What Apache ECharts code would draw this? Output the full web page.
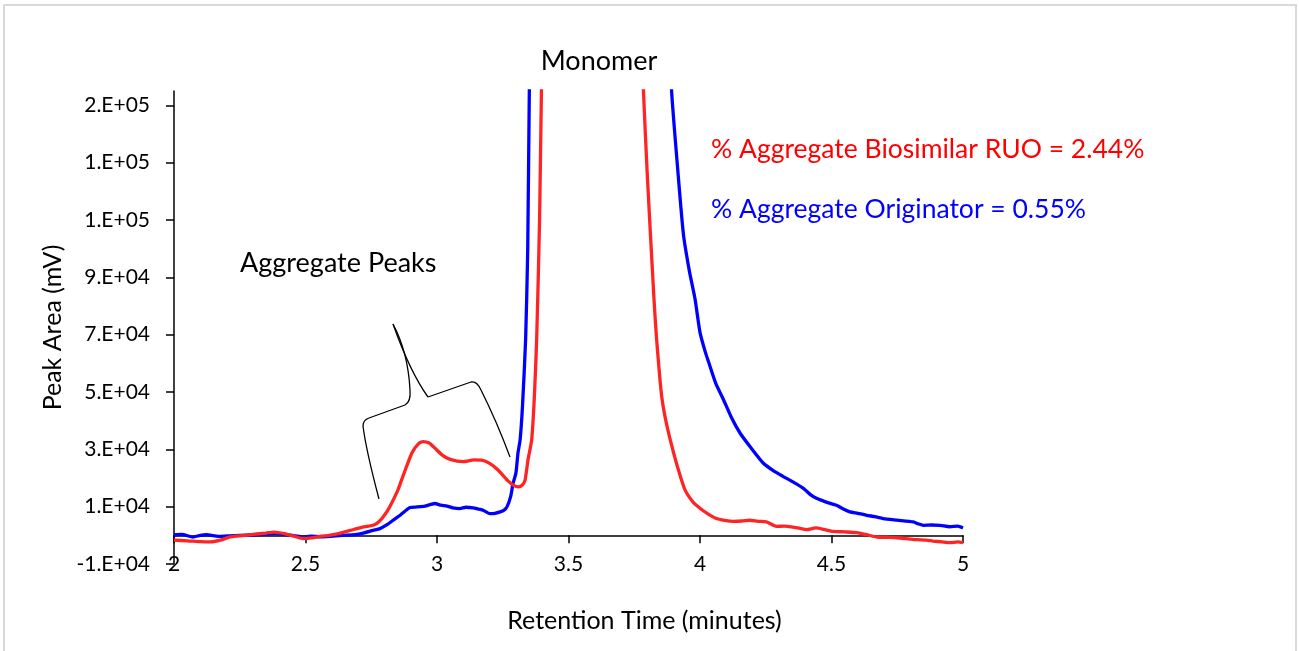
<!DOCTYPE html>
<html>
<head>
<meta charset="utf-8">
<script src="https://cdn.jsdelivr.net/npm/echarts@6/dist/echarts.min.js"></script>
<style>
  html, body { margin: 0; padding: 0; background: #fff; }
  #chart { width: 1299px; height: 651px; }
</style>
</head>
<body>
<div id="chart"></div>
<script>
// retention time (minutes) / peak area readings, originator (blue)
const blueTime = [2.00, 2.03, 2.072, 2.10, 2.125, 2.15, 2.175, 2.21, 2.25, 2.30, 2.35, 2.384, 2.42, 2.46, 2.49, 2.52, 2.56, 2.593, 2.64, 2.688,
  2.72, 2.757, 2.783, 2.81, 2.833, 2.86, 2.897, 2.925, 2.954, 2.992, 3.015, 3.038, 3.06, 3.087, 3.11, 3.137, 3.16, 3.175, 3.20, 3.22,
  3.24, 3.255, 3.266, 3.28, 3.289, 3.30, 3.308, 3.316, 3.325, 3.337, 3.345, 3.351, 3.36, 3.40, 3.48, 3.60, 3.72, 3.82, 3.87, 3.892,
  3.915, 3.937, 3.96, 3.981, 4.00, 4.02, 4.038, 4.06, 4.089, 4.12, 4.152, 4.19, 4.241, 4.28, 4.317, 4.35, 4.393, 4.42, 4.443, 4.48,
  4.519, 4.545, 4.57, 4.60, 4.634, 4.665, 4.697, 4.75, 4.811, 4.83, 4.849, 4.88, 4.913, 4.95, 4.98, 5.00];
const blueValue = [200, 300, -600, 0, 200, -100, -350, -200, 0, 200, 400, 580, 300, -200, -600, -300, -500, -350, 0, 230,
  800, 1750, 2340, 3700, 5260, 7000, 9700, 9900, 10200, 11100, 10500, 10200, 9600, 9350, 9800, 9600, 9100, 8770, 7600, 7700,
  8200, 8800, 9930, 13500, 18100, 21700, 28800, 33300, 45000, 68400, 100000, 154500, 200000, 330000, 430000, 460000, 420000, 300000, 200000, 155000,
  128000, 105000, 92000, 82500, 70800, 64000, 59000, 53000, 47400, 41000, 35700, 31000, 25150, 22500, 20500, 18800, 16400, 14200, 12900, 11600,
  10500, 9200, 8200, 7700, 7000, 6500, 5850, 5300, 4680, 4000, 3500, 3600, 3500, 3000, 3200, 2570];

// biosimilar RUO (red)
const redTime = [2.00, 2.05, 2.10, 2.14, 2.18, 2.21, 2.26, 2.30, 2.35, 2.38, 2.42, 2.46, 2.49, 2.53, 2.56, 2.59, 2.63, 2.67, 2.71, 2.76,
  2.78, 2.80, 2.82, 2.85, 2.87, 2.905, 2.93, 2.947, 2.97, 2.99, 3.02, 3.05, 3.10, 3.14, 3.17, 3.20, 3.23, 3.25, 3.27, 3.29,
  3.31, 3.325, 3.335, 3.346, 3.36, 3.37, 3.379, 3.39, 3.397, 3.41, 3.45, 3.52, 3.60, 3.68, 3.75, 3.785, 3.80, 3.825, 3.835, 3.855,
  3.885, 3.94, 3.97, 4.00, 4.03, 4.063, 4.10, 4.126, 4.16, 4.19, 4.22, 4.253, 4.29, 4.32, 4.353, 4.38, 4.405, 4.44, 4.47, 4.506,
  4.55, 4.596, 4.63, 4.672, 4.72, 4.76, 4.79, 4.824, 4.86, 4.886, 4.92, 4.95, 4.98, 5.00];
const redValue = [-1700, -1900, -2200, -2300, -1600, -600, -100, 300, 800, 1150, 600, -400, -1100, -800, -300, 0, 700, 1700, 2700, 3600,
  4800, 7000, 9900, 15500, 20500, 28800, 32000, 32700, 32200, 30600, 28000, 26500, 25700, 26300, 26200, 25100, 23000, 21000, 19000, 17500,
  16900, 17600, 19300, 26300, 33300, 48000, 68400, 110000, 154500, 210000, 320000, 390000, 400000, 350000, 240000, 155000, 125000, 82500, 68400, 48000,
  34000, 16500, 12000, 9450, 7500, 5850, 5100, 4900, 5000, 5260, 4900, 4680, 3150, 3200, 2900, 2400, 2000, 2570, 2100, 1400,
  1200, 930, 300, -580, -700, -930, -1200, -1520, -1700, -2000, -2300, -2570, -2300, -2570];

const yTickValues = [-10000, 10000, 30000, 50000, 70000, 90000, 110000, 130000, 150000];
const yTickLabels = ['-1.E+04', '1.E+04', '3.E+04', '5.E+04', '7.E+04', '9.E+04', '1.E+05', '1.E+05', '2.E+05'];

const zip = (xs, ys) => xs.map((x, i) => [x, ys[i]]);

// curly brace over the aggregate peaks (hand drawn annotation)
const braceStyle = { fill: 'none', stroke: '#000', lineWidth: 1.3 };
const curve = (x1, y1, cx, cy, x2, y2) => ({ type: 'bezierCurve', z: 10, shape: { x1: x1, y1: y1, cpx1: cx, cpy1: cy, x2: x2, y2: y2 }, style: braceStyle });
const seg = (x1, y1, x2, y2) => ({ type: 'line', z: 10, shape: { x1: x1, y1: y1, x2: x2, y2: y2 }, style: braceStyle });

var chart = echarts.init(document.getElementById('chart'));
chart.setOption({
  animation: false,
  textStyle: { fontFamily: 'Lato' },
  grid: { left: 174, top: 91, width: 789, height: 473, outerBoundsMode: 'none', containLabel: false },
  xAxis: {
    type: 'value', min: 2, max: 5, interval: 0.5,
    name: 'Retention Time (minutes)', nameLocation: 'middle', nameGap: 44,
    nameTextStyle: { fontSize: 25, color: '#000', padding: [0, 0, 0, 152] },
    axisLine: { onZero: true, lineStyle: { color: '#000', width: 1.5 } },
    axisTick: { show: true, length: 8, lineStyle: { color: '#000', width: 1.5 } },
    axisLabel: { fontSize: 21, color: '#000', margin: -10 },
    splitLine: { show: false }
  },
  yAxis: {
    type: 'value', min: -10000, max: 155000,
    name: 'Peak Area (mV)', nameLocation: 'middle', nameGap: 106,
    nameTextStyle: { fontSize: 25, color: '#000' },
    axisLine: { show: true, lineStyle: { color: '#000', width: 1.5 } },
    axisTick: { show: true, length: 8, customValues: yTickValues, lineStyle: { color: '#000', width: 1.5 } },
    axisLabel: {
      fontSize: 21, color: '#000', margin: 24, customValues: yTickValues,
      formatter: v => yTickLabels[yTickValues.indexOf(v)]
    },
    splitLine: { show: false }
  },
  series: [
    {
      name: 'Originator', type: 'line', data: zip(blueTime, blueValue),
      symbol: 'none', clip: true, smooth: 0.2,
      lineStyle: { color: '#0000FF', width: 3.3 }
    },
    {
      name: 'Biosimilar RUO', type: 'line', data: zip(redTime, redValue),
      symbol: 'none', clip: true, smooth: 0.2,
      lineStyle: { color: '#FF2424', width: 3.3 }
    }
  ],
  graphic: [
    { type: 'rect', shape: { x: 4, y: 5, width: 1292, height: 660 }, style: { fill: 'none', stroke: '#d9d9d9', lineWidth: 2 }, z: -1 },
    { type: 'text', x: 599, y: 61, style: { text: 'Monomer', fontSize: 27, fontFamily: 'Lato', fill: '#000', align: 'center', verticalAlign: 'middle' } },
    { type: 'text', x: 240, y: 263, style: { text: 'Aggregate Peaks', fontSize: 27, fontFamily: 'Lato', fill: '#000', align: 'left', verticalAlign: 'middle' } },
    { type: 'text', x: 711, y: 149, style: { text: '% Aggregate Biosimilar RUO = 2.44%', fontSize: 26.5, fontFamily: 'Lato', fill: '#FF0000', align: 'left', verticalAlign: 'middle' } },
    { type: 'text', x: 711, y: 209, style: { text: '% Aggregate Originator = 0.55%', fontSize: 26.5, fontFamily: 'Lato', fill: '#0000FF', align: 'left', verticalAlign: 'middle' } },
    curve(379, 499, 366, 450, 363, 426),
    curve(363, 426, 363, 420, 369, 418),
    seg(369, 418, 405, 405),
    curve(405, 405, 411, 402, 410, 390),
    curve(410, 390, 408, 352, 393, 324),
    curve(393, 324, 410, 372, 428, 397),
    seg(428, 397, 471, 382),
    curve(471, 382, 477, 381, 481, 390),
    curve(481, 390, 497, 422, 510, 457)
  ]
});
</script>
</body>
</html>
